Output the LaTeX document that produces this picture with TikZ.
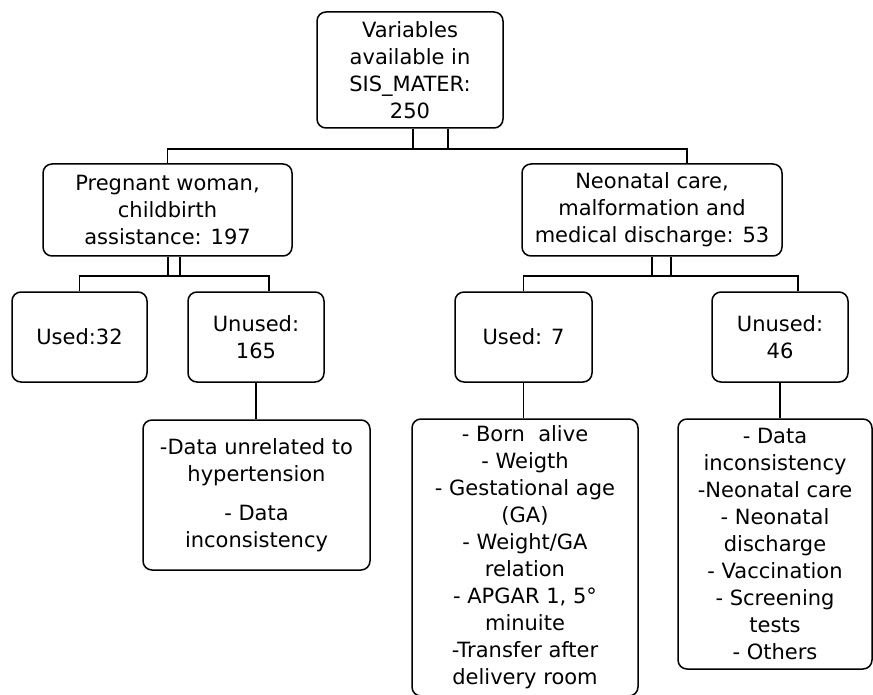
\documentclass[tikz,border=0pt]{standalone}
\usepackage{fontspec}
\setmainfont{DejaVu Sans}
\usetikzlibrary{calc,positioning}

\begin{document}
\begin{tikzpicture}[x=1pt,y=-1pt,every text node part/.style={align=center},text=black,
	box/.style={draw,line width=1.5pt,rounded corners=9pt,inner sep=0pt,font=\fontsize{21}{27}\selectfont},
	link/.style={line width=1.5pt}]
	\useasboundingbox (0,0) rectangle (873,695);

	% top level
	\node[box,minimum width=186pt,minimum height=116pt] (total) at (410,70) {Variables\\available in\\SIS\_MATER:\\250};

	% groups
	\node[box,minimum width=249pt,minimum height=92pt] (preg) at (167.5,210) {Pregnant woman,\\childbirth\\assistance: 197};
	\node[box,minimum width=260pt,minimum height=92pt] (neo) at (652,210) {Neonatal care,\\malformation and\\medical discharge: 53};

	% used / unused
	\node[box,minimum width=135pt,minimum height=90pt] (usedA) at (79.5,337) {Used:32};
	\node[box,minimum width=136pt,minimum height=90pt] (unusedA) at (256,337) {Unused:\\165};
	\node[box,minimum width=137pt,minimum height=90pt] (usedB) at (523.5,337) {Used: 7};
	\node[box,minimum width=136pt,minimum height=90pt] (unusedB) at (780,337) {Unused:\\46};

	% lists
	\node[box,minimum width=227pt,minimum height=150pt] (listA) at (256.5,495) {-Data unrelated to\\hypertension\\[12pt]- Data\\inconsistency};
	\node[box,minimum width=226pt,minimum height=277pt] (listB) at (525,557.5) {- Born~ alive\\- Weigth\\- Gestational age\\(GA)\\- Weight/GA\\relation\\- APGAR 1, 5°\\minuite\\-Transfer after\\delivery room};
	\node[box,minimum width=194pt,minimum height=250pt] (listC) at (775,544) {- Data\\inconsistency\\-Neonatal care\\- Neonatal\\discharge\\- Vaccination\\- Screening\\tests\\- Others};

	% connections
	\coordinate (busT) at (0,149);
	\coordinate (busA) at (0,276);
	\coordinate (tL) at ($(total.south)+(3,0)$);
	\coordinate (tR) at ($(total.south)+(38,0)$);
	\coordinate (pL) at ($(preg.south)+(0.5,0)$);
	\coordinate (pR) at ($(preg.south)+(12.5,0)$);
	\coordinate (nL) at (neo.south);
	\coordinate (nR) at ($(neo.south)+(19,0)$);
	\coordinate (inA) at ($(unusedA.north)+(13,0)$);
	\coordinate (inB) at ($(unusedB.north)+(18,0)$);
	\coordinate (inN) at ($(neo.north)+(35,0)$);

	\draw[link] (tR) -- (tR |- busT) -| (preg.north);
	\draw[link] (tL) -- (tL |- busT) -| (inN);

	\draw[link] (pR) -- (pR |- busA) -| (usedA.north);
	\draw[link] (pL) -- (pL |- busA) -| (inA);

	\draw[link] (nR) -- (nR |- busA) -| (usedB.north);
	\draw[link] (nL) -- (nL |- busA) -| (inB);

	\draw[link] (unusedA.south) -- (unusedA.south |- listA.north);
	\draw[link] (usedB.south) -- (usedB.south |- listB.north);
	\draw[link] (unusedB.south) -- (unusedB.south |- listC.north);
\end{tikzpicture}
\end{document}
